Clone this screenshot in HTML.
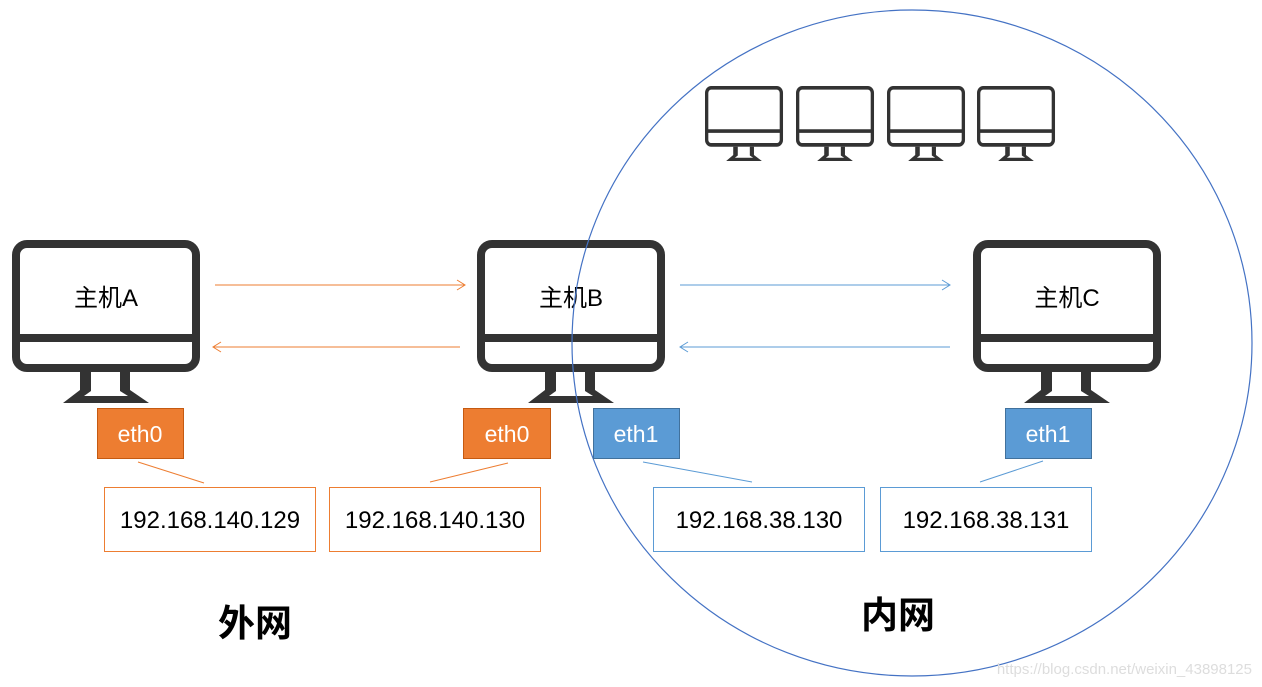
<!DOCTYPE html>
<html><head><meta charset="utf-8"><style>
html,body{margin:0;padding:0;background:#fff;width:1262px;height:687px;overflow:hidden}
svg text{font-family:"Liberation Sans","Noto Sans CJK SC",sans-serif}
</style></head><body>
<svg width="1262" height="687" viewBox="0 0 1262 687" xmlns="http://www.w3.org/2000/svg">
<defs>
<g id="mon">
<rect x="4" y="4" width="180" height="124" rx="11" fill="#fff" stroke="#333" stroke-width="8"/>
<line x1="4" y1="98" x2="184" y2="98" stroke="#333" stroke-width="8"/>
<polygon points="68,132 68,150 51,163 137,163 118,150 118,132" fill="#333"/>
<polygon points="79,132 79,151 72,156 116,156 108,151 108,132" fill="#fff"/>
</g>
<marker id="ao" markerWidth="12" markerHeight="12" refX="10" refY="6" orient="auto" markerUnits="userSpaceOnUse"><path d="M2,1 L10,6 L2,11" fill="none" stroke="#ED7D31" stroke-width="1"/></marker>
<marker id="ab" markerWidth="12" markerHeight="12" refX="10" refY="6" orient="auto" markerUnits="userSpaceOnUse"><path d="M2,1 L10,6 L2,11" fill="none" stroke="#5B9BD5" stroke-width="1"/></marker>
</defs>
<use href="#mon" x="12" y="240"/>
<use href="#mon" x="477" y="240"/>
<use href="#mon" x="973" y="240"/>
<g transform="translate(705,86) scale(0.415,0.46)"><use href="#mon"/></g>
<g transform="translate(796,86) scale(0.415,0.46)"><use href="#mon"/></g>
<g transform="translate(887,86) scale(0.415,0.46)"><use href="#mon"/></g>
<g transform="translate(977,86) scale(0.415,0.46)"><use href="#mon"/></g>
<text x="106" y="306" font-size="24" text-anchor="middle" fill="#000">主机A</text>
<text x="571" y="306" font-size="24" text-anchor="middle" fill="#000">主机B</text>
<text x="1067" y="306" font-size="24" text-anchor="middle" fill="#000">主机C</text>
<ellipse cx="912" cy="343" rx="340" ry="333" fill="none" stroke="#4472C4" stroke-width="1.2"/>
<line x1="215" y1="285" x2="465" y2="285" stroke="#ED7D31" stroke-width="1" marker-end="url(#ao)"/>
<line x1="460" y1="347" x2="213" y2="347" stroke="#ED7D31" stroke-width="1" marker-end="url(#ao)"/>
<line x1="680" y1="285" x2="950" y2="285" stroke="#5B9BD5" stroke-width="1" marker-end="url(#ab)"/>
<line x1="950" y1="347" x2="680" y2="347" stroke="#5B9BD5" stroke-width="1" marker-end="url(#ab)"/>
<rect x="97.5" y="408.5" width="86" height="50" fill="#ED7D31" stroke="#C55A11"/>
<rect x="463.5" y="408.5" width="87" height="50" fill="#ED7D31" stroke="#C55A11"/>
<rect x="593.5" y="408.5" width="86" height="50" fill="#5B9BD5" stroke="#41719C"/>
<rect x="1005.5" y="408.5" width="86" height="50" fill="#5B9BD5" stroke="#41719C"/>
<text x="140" y="442" font-size="23" fill="#fff" text-anchor="middle">eth0</text>
<text x="507" y="442" font-size="23" fill="#fff" text-anchor="middle">eth0</text>
<text x="636" y="442" font-size="23" fill="#fff" text-anchor="middle">eth1</text>
<text x="1048" y="442" font-size="23" fill="#fff" text-anchor="middle">eth1</text>
<line x1="138" y1="462" x2="204" y2="483" stroke="#ED7D31"/>
<line x1="508" y1="463" x2="430" y2="482" stroke="#ED7D31"/>
<line x1="643" y1="462" x2="752" y2="482" stroke="#5B9BD5"/>
<line x1="1043" y1="461" x2="980" y2="482" stroke="#5B9BD5"/>
<rect x="104.5" y="487.5" width="211" height="64" fill="#fff" stroke="#ED7D31"/>
<rect x="329.5" y="487.5" width="211" height="64" fill="#fff" stroke="#ED7D31"/>
<rect x="653.5" y="487.5" width="211" height="64" fill="#fff" stroke="#5B9BD5"/>
<rect x="880.5" y="487.5" width="211" height="64" fill="#fff" stroke="#5B9BD5"/>
<text x="210" y="528" font-size="24" text-anchor="middle" fill="#000">192.168.140.129</text>
<text x="435" y="528" font-size="24" text-anchor="middle" fill="#000">192.168.140.130</text>
<text x="759" y="528" font-size="24" text-anchor="middle" fill="#000">192.168.38.130</text>
<text x="986" y="528" font-size="24" text-anchor="middle" fill="#000">192.168.38.131</text>
<text x="255" y="636" font-size="37" font-weight="bold" text-anchor="middle" fill="#000">外网</text>
<text x="898" y="628" font-size="37" font-weight="bold" text-anchor="middle" fill="#000">内网</text>
<text x="1252" y="674" font-size="15" text-anchor="end" fill="#ddd">https://blog.csdn.net/weixin_43898125</text>
</svg>
</body></html>
